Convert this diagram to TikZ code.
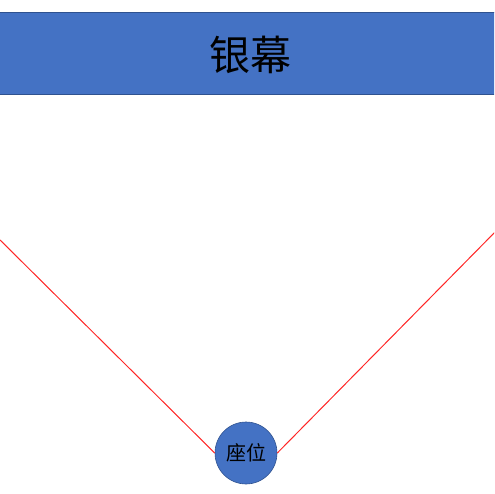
\documentclass[tikz,border=0pt]{standalone}
\usepackage{fontspec}
\newfontfamily\cjk{Noto Sans CJK SC}
\usetikzlibrary{positioning}
\definecolor{officeblue}{HTML}{4472C4}
\definecolor{darkblue}{HTML}{2F528F}

\begin{document}
\begin{tikzpicture}[x=1pt, y=-1pt, screen/.style={fill=officeblue,draw=darkblue,line width=0.8pt},
    seatdot/.style={circle,fill=officeblue,draw=darkblue,line width=0.6pt,minimum size=62pt,inner sep=0pt,font=\cjk\fontsize{20}{20}\selectfont},
    sight/.style={draw=red!85!white,line width=1pt}]
              \useasboundingbox (0,0) rectangle (494,494);
              \clip (0,0) rectangle (494,494);
              \draw[screen] (-2,12.5) rectangle (496,94);
              \node[font=\cjk\fontsize{41}{41}\selectfont] (screen) at (250,55) {银幕};
              \node[seatdot] (seat) at (246,453) {座位};
              \coordinate (leftend) at (-5,235);
              \coordinate (rightend) at (499,228);
              \draw[sight] (seat.west) -- (leftend);
              \draw[sight] (seat.east) -- (rightend);
            \end{tikzpicture}
\end{document}
